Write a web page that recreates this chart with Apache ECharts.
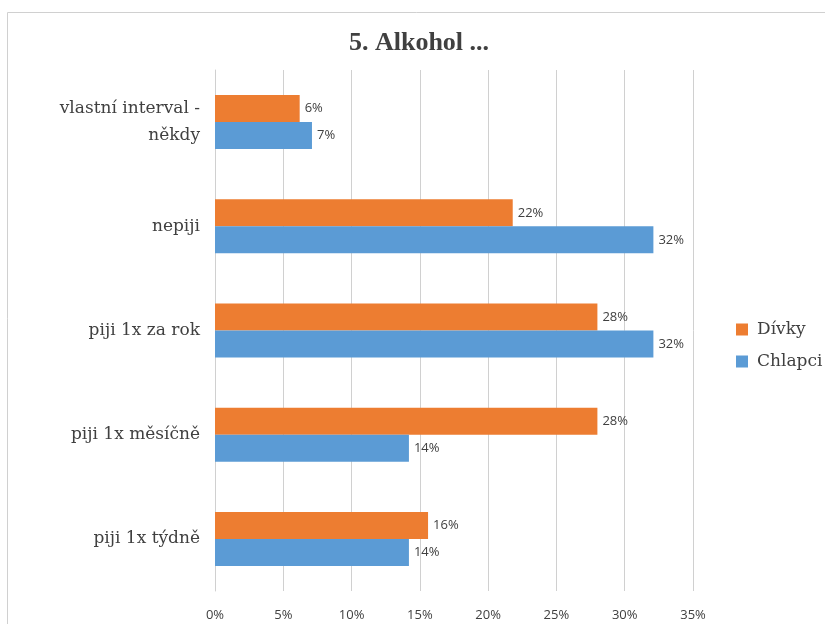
<!DOCTYPE html>
<html>
<head>
<meta charset="utf-8">
<script src="https://cdn.jsdelivr.net/npm/echarts@6/dist/echarts.min.js"></script>
<style>
  html, body { margin: 0; padding: 0; background: #fff; }
  #chart-container { width: 825px; height: 624px; }
</style>
</head>
<body>
<div id="chart-container"></div>
<script>
var categories = ['vlastní interval -\nněkdy', 'nepiji', 'piji 1x za rok', 'piji 1x měsíčně', 'piji 1x týdně'];
// hodnoty odectene z delky sloupcu (popisky se zaokrouhluji)
var divky = [6.2, 21.8, 28, 28, 15.6];
var chlapci = [7.1, 32.1, 32.1, 14.2, 14.2];
var xTicks = [0, 5, 10, 15, 20, 25, 30, 35];

var myChart = echarts.init(document.getElementById('chart-container'));

var barLabel = {
    show: true,
    position: 'right',
    distance: 5,
    formatter: function (p) { return Math.round(p.value) + '%'; },
    color: '#404040',
    fontFamily: 'Open Sans',
    fontSize: 13
};

var option = {
    animation: false,
    backgroundColor: '#fff',
    title: {
        text: '5. Alkohol ...',
        left: 414,
        textAlign: 'center',
        top: 25,
        textStyle: {
            fontFamily: 'Liberation Serif',
            fontWeight: 'bold',
            fontSize: 26,
            color: '#404040'
        }
    },
    graphic: [{
        type: 'rect',
        shape: { x: 7.5, y: 12.5, width: 830, height: 620 },
        style: { fill: 'none', stroke: '#d0d0d0', lineWidth: 1 },
        silent: true
    }],
    legend: {
        orient: 'vertical',
        left: 731,
        top: 316,
        itemWidth: 12,
        itemHeight: 12,
        itemGap: 15,
        itemStyle: { borderWidth: 0 },
        icon: 'rect',
        data: ['Dívky', 'Chlapci'],
        textStyle: {
            fontFamily: 'DejaVu Serif',
            fontSize: 17,
            color: '#404040',
            padding: [0, 0, 0, 4]
        }
    },
    grid: {
        left: 215,
        right: 132,
        top: 70,
        bottom: 33,
        containLabel: false
    },
    xAxis: {
        type: 'value',
        min: xTicks[0],
        max: xTicks[xTicks.length - 1],
        interval: 5,
        axisLine: { show: false },
        axisTick: { show: false },
        splitLine: { lineStyle: { color: '#d0d0d0', width: 1 } },
        axisLabel: {
            formatter: '{value}%',
            margin: 18,
            color: '#404040',
            fontFamily: 'Open Sans',
            fontSize: 13
        }
    },
    yAxis: {
        type: 'category',
        inverse: true,
        data: categories,
        axisLine: { show: true, lineStyle: { color: '#d0d0d0' } },
        axisTick: { show: false },
        axisLabel: {
            margin: 15,
            color: '#404040',
            fontFamily: 'DejaVu Serif',
            fontSize: 17,
            lineHeight: 27,
            align: 'right'
        }
    },
    series: [{
        name: 'Dívky',
        type: 'bar',
        data: divky,
        barWidth: 27,
        barGap: '0%',
        itemStyle: { color: '#ED7D31' },
        label: barLabel
    }, {
        name: 'Chlapci',
        type: 'bar',
        data: chlapci,
        barWidth: 27,
        barGap: '0%',
        itemStyle: { color: '#5B9BD5' },
        label: barLabel
    }]
};

myChart.setOption(option);
</script>
</body>
</html>
